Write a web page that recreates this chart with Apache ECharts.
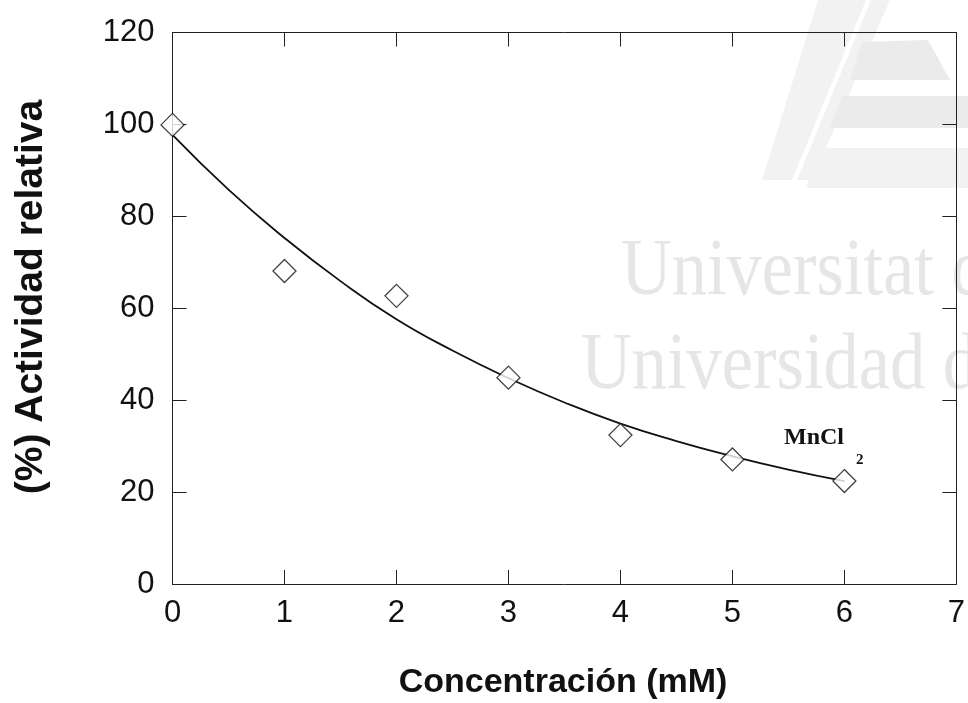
<!DOCTYPE html>
<html>
<head>
<meta charset="utf-8">
<script src="https://cdn.jsdelivr.net/npm/echarts@6/dist/echarts.min.js"></script>
<style>
  html, body { margin: 0; padding: 0; background: #fff; }
  #chart { width: 968px; height: 703px; }
</style>
</head>
<body>
<div id="chart"></div>
<script>
// Measured relative activity vs. MnCl2 concentration
const concentrations = [0, 1, 2, 3, 4, 5, 6];
const activity = [99.9, 68.1, 62.7, 44.9, 32.4, 27.1, 22.4];

// Fitted decay curve, sampled every 0.5 mM
const fitX = [0, 0.5, 1, 1.5, 2, 2.5, 3, 3.5, 4, 4.5, 5, 5.5, 6];
const fitY = [97.7, 85.8, 75.3, 65.9, 57.6, 50.8, 44.8, 39.5, 34.9, 31.1, 27.8, 24.9, 22.4];

const xTicks = [0, 1, 2, 3, 4, 5, 6, 7];
const yTicks = [0, 20, 40, 60, 80, 100, 120];

const xTitle = 'Concentración (mM)';
const yTitle = '(%) Actividad relativa';
const seriesLabel = 'MnCl';
const seriesLabelSub = '2';
const watermarkLines = ['Universitat d\'Alacant', 'Universidad de Alicante'];

const chart = echarts.init(document.getElementById('chart'), null, { renderer: 'canvas' });

const axisLineStyle = { color: '#222', width: 1 };
const tickFont = { fontFamily: '"Liberation Sans", Arial, sans-serif', fontSize: 31, color: '#111' };

const baseX = {
  type: 'value',
  min: xTicks[0],
  max: xTicks[xTicks.length - 1],
  interval: 1,
  axisLine: { show: true, onZero: false, lineStyle: axisLineStyle },
  axisTick: { show: true, inside: true, length: 14, lineStyle: axisLineStyle },
  splitLine: { show: false }
};
const baseY = {
  type: 'value',
  min: yTicks[0],
  max: yTicks[yTicks.length - 1],
  interval: 20,
  axisLine: { show: true, onZero: false, lineStyle: axisLineStyle },
  axisTick: { show: true, inside: true, length: 14, lineStyle: axisLineStyle },
  splitLine: { show: false }
};

const grey = '#ebebeb';
const greyLight = '#f2f2f2';

chart.setOption({
  animation: false,
  backgroundColor: '#fff',
  grid: { left: 172.5, right: 11.5, top: 32.5, bottom: 119, containLabel: false },
  xAxis: [
    Object.assign({}, baseX, {
      position: 'bottom',
      axisLabel: Object.assign({ show: true, margin: 14 }, tickFont)
    }),
    Object.assign({}, baseX, { position: 'top', axisLabel: { show: false } })
  ],
  yAxis: [
    Object.assign({}, baseY, {
      position: 'left',
      axisLabel: Object.assign({ show: true, margin: 18 }, tickFont)
    }),
    Object.assign({}, baseY, { position: 'right', axisLabel: { show: false } })
  ],
  graphic: {
    elements: [
      // faint university mark in the background
      { type: 'polygon', z: -10, shape: { points: [[818, 0], [866, 0], [792, 180], [762, 180]] }, style: { fill: greyLight } },
      { type: 'polygon', z: -10, shape: { points: [[871, 0], [890, 0], [812, 180], [797, 180]] }, style: { fill: greyLight } },
      { type: 'polygon', z: -10, shape: { points: [[862, 42], [928, 40], [950, 80], [850, 80]] }, style: { fill: grey } },
      { type: 'polygon', z: -10, shape: { points: [[842, 96], [968, 96], [968, 128], [830, 128]] }, style: { fill: grey } },
      { type: 'polygon', z: -10, shape: { points: [[822, 148], [968, 148], [968, 188], [806, 188]] }, style: { fill: greyLight } },
      { type: 'text', z: -10, x: 621, y: 273, scaleX: 0.88,
        style: { text: watermarkLines[0], font: '80px "Liberation Serif", serif', fill: '#e6e6e6', verticalAlign: 'middle', align: 'left' } },
      { type: 'text', z: -10, x: 581, y: 367, scaleX: 0.88,
        style: { text: watermarkLines[1], font: '80px "Liberation Serif", serif', fill: '#e6e6e6', verticalAlign: 'middle', align: 'left' } },
      // axis titles
      { type: 'text', x: 563, y: 683,
        style: { text: xTitle, font: 'bold 34px "Liberation Sans", Arial, sans-serif', fill: '#111', align: 'center', verticalAlign: 'middle' } },
      { type: 'text', x: 31, y: 297, rotation: Math.PI / 2,
        style: { text: yTitle, font: 'bold 39px "Liberation Sans", Arial, sans-serif', fill: '#111', align: 'center', verticalAlign: 'middle' } },
      // series label
      { type: 'text', x: 784, y: 438,
        style: { text: seriesLabel, font: 'bold 24px "Liberation Serif", serif', fill: '#111', align: 'left', verticalAlign: 'middle' } },
      { type: 'text', x: 856, y: 460,
        style: { text: seriesLabelSub, font: 'bold 15px "Liberation Serif", serif', fill: '#111', align: 'left', verticalAlign: 'middle' } }
    ]
  },
  series: [
    {
      type: 'line',
      data: fitX.map((x, i) => [x, fitY[i]]),
      smooth: true,
      showSymbol: false,
      lineStyle: { color: '#111', width: 1.8 },
      z: 3
    },
    {
      type: 'scatter',
      data: concentrations.map((x, i) => [x, activity[i]]),
      symbol: 'diamond',
      symbolSize: 23,
      itemStyle: { color: '#fff', borderColor: '#111', borderWidth: 1.3 },
      z: 4
    }
  ]
});
</script>
</body>
</html>
